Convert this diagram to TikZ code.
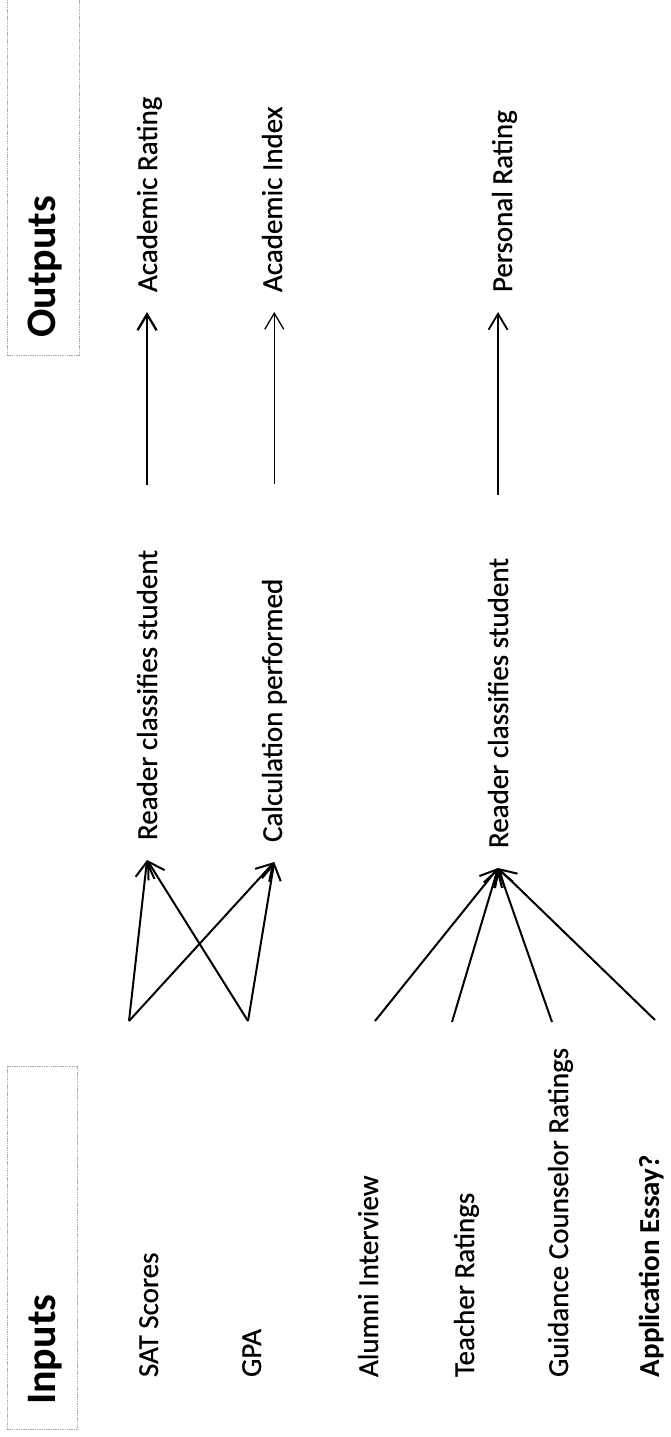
\documentclass[tikz,border=0pt]{standalone}
\usepackage{fontspec}
\setmainfont{Carlito}
\newfontfamily\bodyfont{Carlito}[FakeBold=0.6]
\usetikzlibrary{arrows.meta}
\begin{document}
\begin{tikzpicture}[x=1pt,y=-1pt,
  txt/.style={rotate=90,anchor=base west,inner sep=0pt,outer sep=0pt,font=\bodyfont\fontsize{29}{34}\selectfont},
  btxt/.style={txt,font=\fontsize{29}{34}\selectfont\bfseries},
  head/.style={rotate=90,anchor=base west,inner sep=0pt,font=\fontsize{42}{50}\selectfont\bfseries},
  mid/.style={txt,outer xsep=20pt},
  frame/.style={draw=gray!65,line width=0.8pt,dash pattern=on 1.5pt off 0.8pt,inner sep=0pt},
  arr/.style={-{Straight Barb[length=16pt,width=19pt]},line width=2pt},
  ]
\useasboundingbox (0,0) rectangle (670,1437);
\fill[white] (0,0) rectangle (670,1437);
% frames
\node[frame,minimum width=70pt,minimum height=363pt] (inbox) at (42,1247.5) {};
\node[frame,minimum width=72pt,minimum height=370pt] (outbox) at (43,170) {};
% headings
\node[head] (inp) at (55,1405) {Inputs};
\node[head] (outp) at (55,338) {Outputs};
% inputs
\node[txt] (sat) at (158,1377) {SAT Scores};
\node[txt] (gpa) at (261,1377) {GPA};
\node[txt] (alu) at (378,1377) {Alumni Interview};
\node[txt] (tea) at (474,1377) {Teacher Ratings};
\node[txt] (gui) at (568,1377) {Guidance Counselor Ratings};
\node[btxt] (app) at (659,1377) {Application Essay?};
% processes
\node[mid] (rc1) at (157,860) {Reader classifies student};
\node[mid] (calc) at (282,862) {Calculation performed};
\node[mid] (rc2) at (508,868) {Reader classifies student};
% outputs
\node[mid] (ar) at (157,312) {Academic Rating};
\node[mid] (ai) at (282,312) {Academic Index};
\node[mid] (pr) at (512,312) {Personal Rating};
% fan origins
\coordinate (satO) at (129,1021);
\coordinate (gpaO) at (248,1021);
\coordinate (aluO) at (375,1021);
\coordinate (teaO) at (452,1022);
\coordinate (guiO) at (552,1022);
\coordinate (appO) at (655,1020);
% fans
\draw[arr] (satO) -- (rc1.west);
\draw[arr] (satO) -- (calc.west);
\draw[arr] (gpaO) -- (rc1.west);
\draw[arr] (gpaO) -- (calc.west);
\draw[arr] (aluO) -- (rc2.west);
\draw[arr] (teaO) -- (rc2.west);
\draw[arr] (guiO) -- (rc2.west);
\draw[arr] (appO) -- (rc2.west);
% outputs arrows
\draw[arr,line width=2.3pt,shorten <=45pt] (rc1.east) -- (rc1.east |- ar.west);
\draw[arr,line width=1.3pt,shorten <=75pt] (calc.east) -- (calc.east |- ai.west);
\draw[arr,line width=1.8pt,shorten <=43pt] (rc2.east) -- (rc2.east |- pr.west);
\end{tikzpicture}
\end{document}
